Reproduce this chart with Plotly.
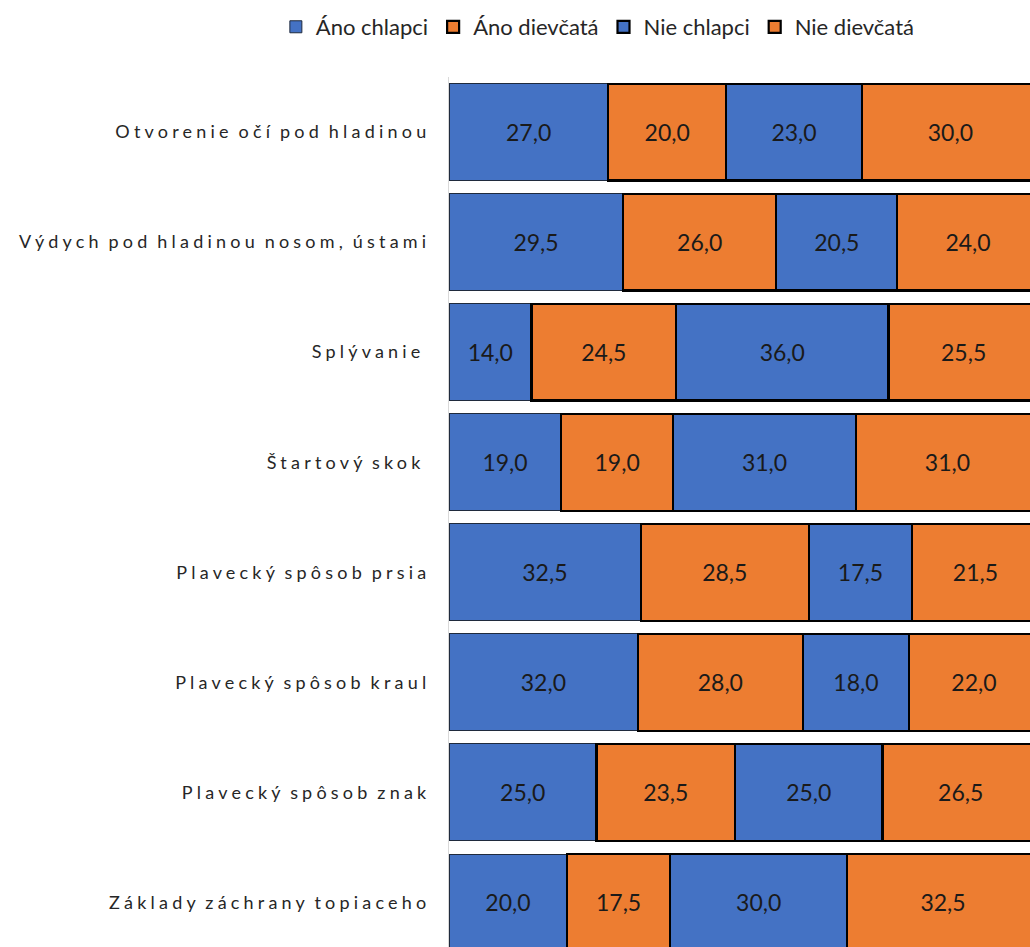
import plotly.graph_objects as go

# Skills evaluated (top to bottom)
skills = [
    "Otvorenie očí pod hladinou",
    "Výdych pod hladinou nosom, ústami",
    "Splývanie\u00a0",
    "Štartový skok\u00a0",
    "Plavecký spôsob prsia",
    "Plavecký spôsob kraul",
    "Plavecký spôsob znak",
    "Základy záchrany topiaceho",
]

ano_chlapci = [27.0, 29.5, 14.0, 19.0, 32.5, 32.0, 25.0, 20.0]
ano_dievcata = [20.0, 26.0, 24.5, 19.0, 28.5, 28.0, 23.5, 17.5]
nie_chlapci = [23.0, 20.5, 36.0, 31.0, 17.5, 18.0, 25.0, 30.0]
nie_dievcata = [30.0, 24.0, 25.5, 31.0, 21.5, 22.0, 26.5, 32.5]

BLUE = "#4472C4"
ORANGE = "#ED7D31"
FONT = "Lato"

series = [
    ("Áno chlapci", ano_chlapci, BLUE, 1.0, "#1f2a3d"),
    ("Áno dievčatá", ano_dievcata, ORANGE, 2.2, "#000000"),
    ("Nie chlapci", nie_chlapci, BLUE, 2.2, "#000000"),
    ("Nie dievčatá", nie_dievcata, ORANGE, 2.2, "#000000"),
]

fig = go.Figure()
for name, vals, color, lw, lc in series:
    fig.add_trace(go.Bar(
        name=name,
        y=skills,
        x=vals,
        orientation="h",
        marker=dict(color=color, line=dict(color=lc, width=lw)),
        texttemplate="%{x:.1f}",
        textposition="inside",
        insidetextanchor="middle",
        textfont=dict(family=FONT, size=23, color="#1a1a1a"),
        constraintext="none",
    ))

fig.update_layout(
    barmode="stack",
    bargap=0.12,
    separators=", ",
    width=1030,
    height=947,
    margin=dict(l=449, r=0, t=77, b=0, autoexpand=False),
    paper_bgcolor="white",
    plot_bgcolor="white",
    font=dict(family=FONT, color="#404040"),
    legend=dict(
        orientation="h",
        x=-0.298,
        xanchor="left",
        y=1.0575,
        yanchor="middle",
        font=dict(family=FONT, size=22, color="#262626"),
        traceorder="normal",
        itemclick=False,
    ),
    xaxis=dict(
        range=[0, 98.5],
        showgrid=False,
        zeroline=False,
        showticklabels=False,
        showline=False,
    ),
    yaxis=dict(
        range=[7.405, -0.5],
        showgrid=False,
        zeroline=False,
        showline=True,
        linecolor="#d9d9d9",
        linewidth=1,
        ticks="outside",
        ticklen=14,
        tickcolor="rgba(0,0,0,0)",
        tickfont=dict(family=FONT, size=18, color="#262626"),
    ),
)

# Widen the character spacing of the category labels, keeping word gaps tight
post = """
document.querySelectorAll('.ytick text').forEach(function(t){
  t.style.letterSpacing = '4.2px';
  t.style.wordSpacing = '-3px';
});
"""

fig.write_html("out.html", post_script=post)
